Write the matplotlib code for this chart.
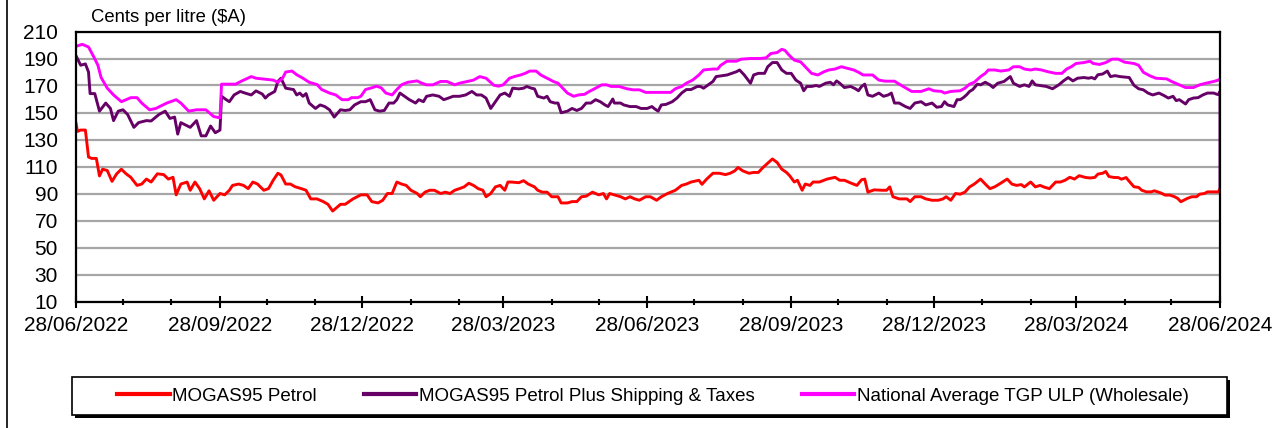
import matplotlib
matplotlib.use("Agg")
import matplotlib.pyplot as plt
import matplotlib.dates as mdates
from matplotlib.patches import Rectangle
import pandas as pd

plt.rcParams['font.family'] = ['Liberation Sans', 'DejaVu Sans']

start = pd.Timestamp("2022-06-28")

# MOGAS95 Petrol (days since start, cents per litre)
red_days = [0, 1, 3, 6, 8, 10, 13, 15, 17, 20, 23, 26, 29, 32, 35, 39, 42, 45, 48, 52, 56, 59, 62, 64,
            67, 71, 73, 76, 79, 82, 85, 88, 92, 95, 98, 100, 104, 107, 110, 113, 116, 120, 123, 126,
            129, 131, 134, 137, 140, 144, 147, 150, 154, 158, 161, 164, 169, 172, 177, 182, 186, 189,
            193, 196, 199, 202, 205, 208, 211, 214, 218, 220, 223, 226, 229, 233, 236, 239, 242, 245,
            248, 251, 254, 257, 260, 262, 265, 268, 271, 274, 276, 278, 283, 286, 289, 293, 295, 298,
            301, 304, 308, 310, 314, 317, 320, 323, 326, 330, 334, 337, 339, 341, 344, 348, 351, 354,
            357, 360, 364, 367, 371, 374, 378, 383, 387, 390, 393, 398, 400, 403, 407, 411, 415, 418,
            421, 423, 426, 430, 433, 436, 439, 442, 445, 448, 451, 454, 456, 459, 461, 464, 466, 469,
            471, 475, 480, 485, 488, 491, 495, 499, 502, 504, 506, 510, 515, 518, 520, 522, 526, 531,
            533, 536, 540, 543, 547, 551, 554, 556, 559, 562, 565, 568, 571, 574, 578, 581, 584, 587,
            590, 595, 598, 601, 604, 606, 610, 613, 616, 619, 622, 626, 629, 632, 635, 638, 641, 645,
            648, 651, 653, 656, 658, 660, 663, 666, 668, 671, 673, 676, 679, 681, 684, 687, 689, 693,
            696, 699, 702, 704, 706, 710, 713, 716, 718, 721, 723, 727, 730, 731]
red_vals = [142, 136, 137, 137, 117, 116, 116, 103, 108, 107, 99, 104.6, 108, 104.6, 102, 96, 97, 100.7,
            98.5, 104.6, 104, 100.7, 102, 89, 97, 98.5, 92.4, 98.5, 93.6, 86, 92, 85, 90, 89, 92.4, 96,
            97, 96, 93.6, 98.5, 97, 92.4, 93.6, 99.8, 105, 103.7, 97, 97, 95, 93.6, 92.4, 86, 86, 84,
            82, 77, 82, 82, 86, 89, 89, 84, 83, 85, 90, 90, 98.5, 97, 96, 92.4, 90, 87.6, 91, 92.4,
            92.4, 90, 91, 90, 92.4, 93.6, 94.9, 97.6, 96, 93.6, 92.4, 87.6, 90, 94.9, 96, 92.4, 98.5,
            98.5, 98, 99.5, 97, 94.9, 92.4, 91, 91, 87.6, 87.6, 83, 83, 84, 84, 87.6, 88, 91, 89, 90,
            86, 90, 89, 87.6, 86, 87.6, 86, 85, 87.6, 87.6, 85, 87.6, 90, 92.4, 96, 97, 98.5, 99.8,
            96.8, 100.7, 105, 105, 104, 105, 106.8, 109.3, 106.8, 105, 105.6, 105.6, 109.3, 112.4,
            115.6, 113, 108, 105.6, 103.2, 98.5, 99.8, 92.4, 97, 96, 98.5, 98.5, 100.7, 102, 99.8,
            99.8, 97.8, 96, 100.2, 100.7, 91, 92.7, 92.4, 92.4, 94.9, 87.6, 86, 86, 84, 87.6, 87.6,
            86, 85, 85, 86, 87.6, 85, 90, 89.5, 91, 94.9, 97, 100.7, 97, 93.6, 94.9, 97, 100.7, 97,
            96, 96.6, 94.9, 98.5, 94.9, 96, 94.6, 93.6, 98.5, 98.5, 99.8, 102, 100.7, 103.2, 101.9,
            101.5, 101.9, 104.4, 105, 106.3, 102.6, 101.9, 101.8, 100.6, 101.8, 99, 95, 94.5, 92.4,
            91.2, 91.2, 92, 90.5, 88.8, 88.8, 87.6, 86.3, 83.9, 86.3, 87.6, 87.6, 89.5, 90, 91.2,
            91.2, 91.2, 93.6]

# MOGAS95 Petrol Plus Shipping & Taxes
purple_days = [0, 3, 6, 8, 9, 12, 15, 19, 22, 24, 27, 30, 33, 37, 40, 45, 48, 53, 57, 60, 63, 65, 67,
               73, 77, 80, 83, 86, 89, 92, 93, 96, 98, 101, 105, 108, 112, 115, 119, 121, 123, 127,
               129, 131, 134, 139, 141, 143, 145, 147, 149, 153, 156, 159, 162, 165, 169, 172, 175,
               178, 182, 185, 188, 191, 194, 197, 200, 203, 205, 207, 210, 213, 217, 219, 222, 224,
               228, 232, 235, 238, 241, 245, 249, 253, 256, 259, 262, 265, 268, 271, 274, 277, 279,
               283, 286, 288, 291, 293, 295, 299, 301, 303, 306, 308, 310, 314, 317, 320, 323, 326,
               329, 332, 335, 338, 340, 343, 344, 348, 350, 354, 358, 361, 365, 368, 370, 372, 374,
               377, 381, 384, 387, 390, 393, 397, 399, 401, 404, 407, 409, 413, 416, 419, 422, 424,
               427, 431, 433, 436, 440, 442, 445, 448, 451, 454, 457, 460, 463, 465, 467, 470, 473,
               475, 479, 482, 484, 486, 488, 491, 495, 498, 500, 502, 504, 506, 509, 513, 516, 519,
               521, 523, 526, 530, 533, 536, 540, 543, 547, 550, 553, 555, 557, 561, 563, 565, 567,
               569, 571, 573, 576, 578, 581, 584, 586, 589, 593, 597, 599, 603, 606, 609, 611, 613,
               616, 620, 624, 628, 631, 634, 637, 640, 644, 647, 649, 651, 653, 656, 659, 661, 664,
               667, 673, 676, 679, 682, 685, 688, 692, 695, 698, 701, 703, 705, 709, 711, 714, 717,
               720, 723, 727, 729, 730, 731, 731]
purple_vals = [192, 185, 186, 180, 164, 164, 151, 157, 153, 144, 151, 152, 148.5, 139, 142.5, 144,
               143.7, 148.5, 151, 145.6, 146.6, 134, 142.5, 139, 144, 132.7, 132.7, 140, 135, 137,
               162, 159.5, 158, 163, 165.6, 164.4, 163, 166, 163.7, 160.7, 163, 165.6, 173, 175.4,
               168, 167, 163, 164.4, 162, 164, 157, 153, 155.6, 154.4, 152, 146.6, 152, 151.5, 152,
               155.6, 158, 158, 159.5, 152, 151, 151.5, 157, 157, 159.5, 164.4, 162, 159.5, 157,
               159.5, 158, 162, 163, 162, 159.5, 160.7, 162, 162, 163, 165.6, 163, 163, 160.7, 153,
               158, 163, 164.4, 162, 168, 167.5, 168, 169.3, 168, 167.5, 162, 160.7, 162, 158, 157,
               157, 149.8, 151, 153, 151.5, 153, 157, 157, 159.5, 158, 155.6, 154.4, 160, 157, 157,
               155.6, 154.4, 154.4, 153, 153, 154.4, 152.5, 151, 155.6, 156, 158, 160.7, 164.4, 167,
               167, 169.3, 169.3, 168, 170.5, 173, 176.6, 177.3, 177.8, 179, 180.2, 181.5, 177.8,
               171.7, 177.8, 179, 179, 183.9, 187, 187, 181.5, 179, 179, 174, 171.7, 166.1, 169.3,
               169.3, 170, 169.3, 171.7, 172.4, 170.5, 173.4, 171.7, 168.5, 169.3, 167.6, 166.1,
               169.3, 171, 163, 162, 164.4, 162, 163, 164.4, 157, 157, 154.4, 153, 157, 158, 155.6,
               157, 153.9, 154.4, 158, 155.6, 154.4, 159.5, 159.5, 161, 163, 165.6, 167, 171, 170.5,
               172.4, 170.5, 168.5, 171.7, 173, 176.6, 171.7, 169.3, 170.5, 169.3, 173.4, 170.5, 170,
               169.3, 167.6, 170.5, 173.4, 175.9, 173.4, 175.4, 175.9, 175.4, 175.9, 174.9, 178,
               178.5, 180.7, 176.6, 177.3, 176.6, 175.9, 170.2, 167.6, 166.8, 164.4, 163, 164.4,
               162.7, 160.7, 162, 158.8, 159.5, 156.3, 159.5, 160.7, 161, 163, 164.4, 164.4, 163.5,
               163.3, 165.6, 94]

# National Average TGP ULP (Wholesale)
pink_days = [0, 4, 8, 11, 14, 16, 20, 24, 29, 35, 39, 42, 47, 51, 58, 64, 67, 72, 77, 83, 88, 92, 93,
             102, 106, 112, 115, 126, 129, 132, 134, 138, 141, 145, 149, 154, 157, 162, 166, 170,
             174, 176, 180, 182, 185, 189, 192, 195, 198, 202, 205, 208, 212, 218, 221, 224, 228,
             233, 237, 242, 245, 250, 254, 258, 262, 267, 270, 273, 277, 280, 284, 287, 290, 294,
             297, 301, 305, 308, 311, 314, 318, 321, 325, 328, 332, 336, 339, 342, 347, 352, 356,
             360, 364, 380, 383, 387, 390, 394, 398, 401, 407, 410, 412, 416, 422, 425, 431, 437,
             441, 444, 448, 451, 453, 456, 459, 463, 466, 470, 474, 478, 481, 485, 489, 493, 497,
             500, 503, 509, 513, 517, 523, 526, 531, 534, 540, 545, 548, 553, 555, 559, 565, 568,
             571, 574, 578, 581, 583, 587, 591, 596, 599, 603, 606, 610, 613, 617, 621, 626, 630,
             633, 636, 639, 644, 648, 650, 654, 658, 662, 666, 670, 676, 679, 682, 686, 690, 697,
             700, 704, 709, 714, 718, 722, 727, 730, 731]
pink_vals = [199, 200.5, 198.5, 192, 185, 176, 168, 163, 158, 161, 161, 157, 152, 153, 157, 159.5,
             157, 151, 152, 152, 147, 146, 171, 171, 173.4, 176.6, 175.4, 174, 172.4, 175.4, 180,
             180.7, 178, 175.4, 172.4, 170.7, 167, 164.4, 163, 159.5, 159.5, 161, 161, 162, 167,
             168.3, 169.5, 168.3, 164.4, 163, 167, 170.5, 172.4, 173.4, 171.7, 170.5, 170.5, 173,
             173, 170.5, 171.7, 173, 174, 176.6, 175.4, 170.2, 169.5, 170.5, 175.4, 176.6, 177.8,
             179, 180.7, 180.7, 177.8, 175.4, 173, 171.7, 168, 164.4, 162, 163, 163.5, 165.6, 168,
             170.5, 170.5, 169.3, 169.3, 167.6, 166.8, 166.8, 164.9, 164.9, 167.6, 169.3, 171.7,
             174, 177.8, 181.5, 182.2, 182.2, 185, 188, 188, 189.5, 190, 190, 190.5, 193.7, 194.4,
             196.8, 196, 192, 188.8, 187.5, 183.9, 179, 177.8, 180.2, 181.5, 182.2, 183.9, 182.7,
             181.5, 179.8, 177.8, 177.8, 174, 173.2, 173.2, 171, 167.6, 165.6, 165.6, 167.6, 166.1,
             165.6, 164.4, 165.6, 166.1, 168, 171, 172.4, 176.6, 179, 181.5, 181.5, 180.7, 181.5,
             183.9, 183.9, 182.2, 181.5, 182.2, 181.5, 180.2, 179, 179, 182.2, 183.9, 186.3, 187,
             188, 186.3, 185.6, 187, 189.5, 189.5, 187.3, 186.3, 185, 179.8, 177.3, 175.4, 174.9,
             173, 171, 168.5, 168.5, 170.5, 171.7, 173, 174, 174.9]

yticks = list(range(10, 211, 20))
tick_dates = pd.date_range("2022-06-01", "2024-06-01", freq="3MS") + pd.Timedelta(days=27)
minor_dates = pd.date_range("2022-06-01", "2024-06-01", freq="MS") + pd.Timedelta(days=27)


def to_dates(days):
    return start + pd.to_timedelta(days, unit="D")


W, H = 1284, 428
fig = plt.figure(figsize=(W / 100, H / 100), dpi=100)
ax = fig.add_axes([76 / W, 1 - 301.5 / H, 1144 / W, 270 / H])

l1, = ax.plot(to_dates(red_days), red_vals, color="#ff0000", lw=2.1)
l2, = ax.plot(to_dates(purple_days), purple_vals, color="#660066", lw=2.1)
l3, = ax.plot(to_dates(pink_days), pink_vals, color="#ff00ff", lw=2.1)

ax.set_ylim(10, 210)
ax.set_yticks(yticks)
ax.set_xlim(tick_dates[0], tick_dates[-1])
ax.set_xticks(tick_dates)
ax.xaxis.set_major_formatter(mdates.DateFormatter("%d/%m/%Y"))
ax.set_xticks(minor_dates, minor=True)
ax.grid(axis="y", color="#a6a6a6", lw=1.6)
ax.set_axisbelow(True)
for s in ax.spines.values():
    s.set_linewidth(1.6)
ax.tick_params(axis="y", length=0, pad=13, labelsize=15)
ax.tick_params(axis="x", which="major", direction="inout", length=9, width=1.5, pad=6, labelsize=15)
ax.tick_params(axis="x", which="minor", direction="inout", length=4, width=1.5)

fig.text(91 / W, 1 - 18 / H, "Cents per litre ($A)", fontsize=13.3, va="center", ha="left")

# legend box with black drop shadow
fig.add_artist(Rectangle((75 / W, 1 - 418 / H), 1155 / W, 38 / H, transform=fig.transFigure,
                         facecolor="black", edgecolor="none", zorder=3))
fig.add_artist(Rectangle((72 / W, 1 - 415 / H), 1155 / W, 38 / H, transform=fig.transFigure,
                         facecolor="white", edgecolor="black", lw=1.2, zorder=4))

leg = fig.legend([l1, l2, l3],
                 ["MOGAS95 Petrol", "MOGAS95 Petrol Plus Shipping & Taxes",
                  "National Average TGP ULP (Wholesale)"],
                 loc="center", bbox_to_anchor=(653 / W, 1 - 396 / H), ncol=3,
                 fontsize=13.5, frameon=False,
                 handlelength=2.8, handletextpad=0.15, columnspacing=2.5)
leg.set_zorder(5)
for h in leg.legend_handles:
    h.set_linewidth(3)

fig.add_artist(plt.Line2D([7 / W, 7 / W], [0, 1], color="black", lw=1.2,
                          transform=fig.transFigure))

fig.savefig("out.png", dpi=100)
